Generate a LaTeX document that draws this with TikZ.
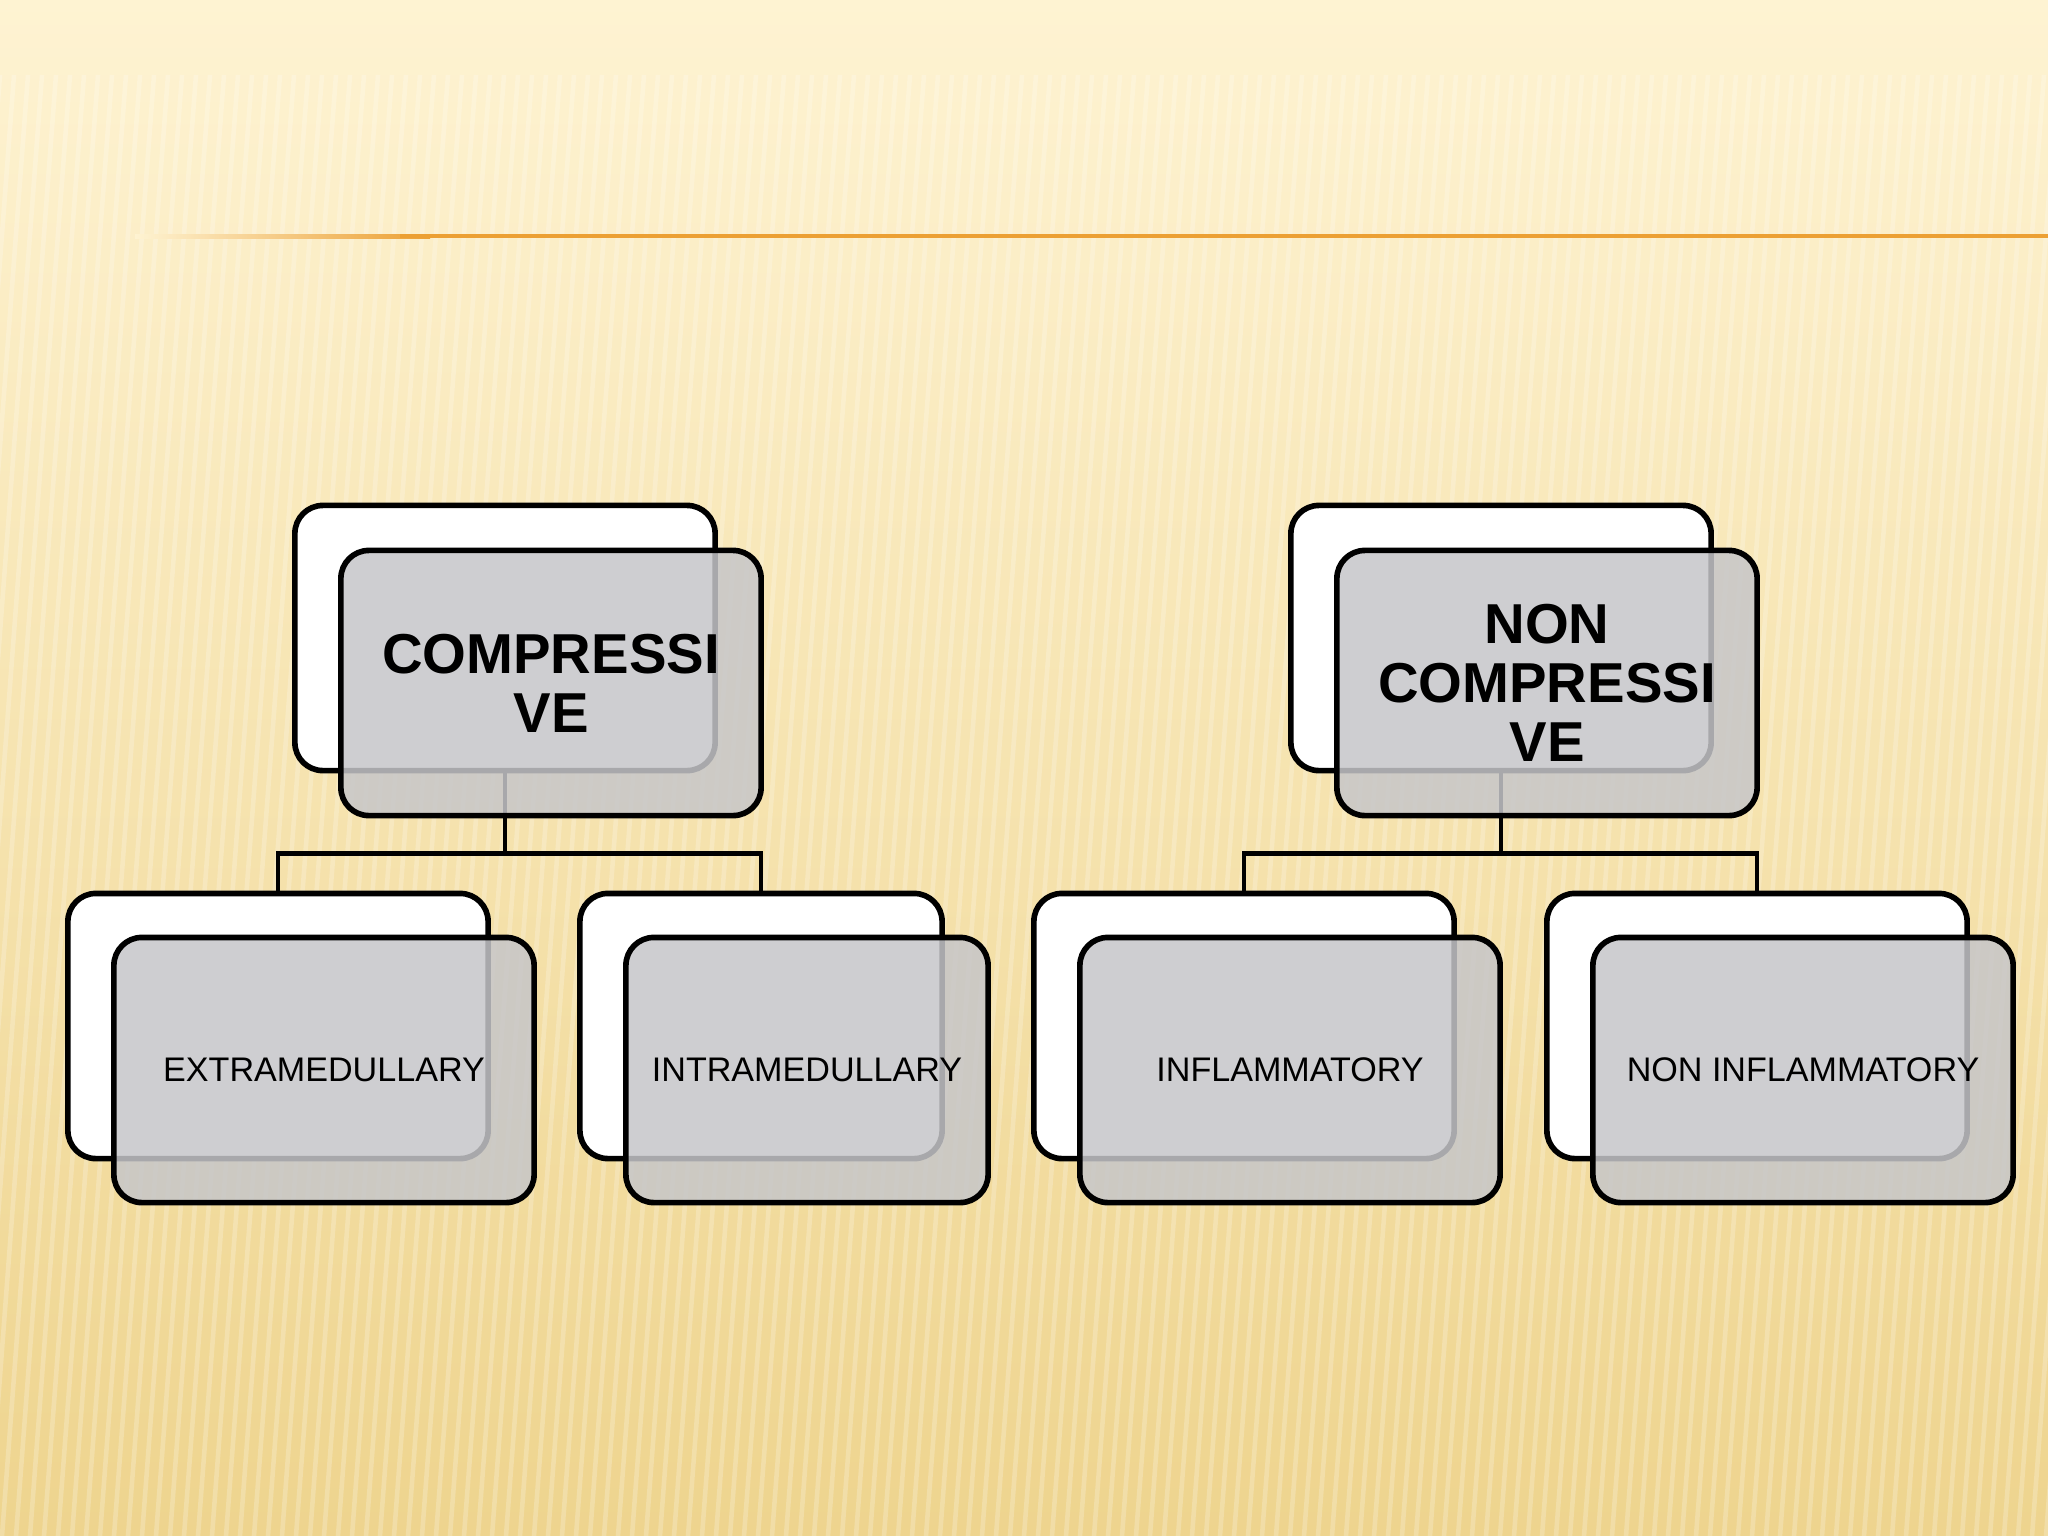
\documentclass[tikz,border=0pt]{standalone}
\usepackage{fontspec}
\setmainfont{Liberation Sans}
\usetikzlibrary{positioning}
\definecolor{bgtop}{RGB}{254,243,210}
\definecolor{bgmid}{RGB}{250,232,178}
\definecolor{bgbot}{RGB}{238,212,142}
\definecolor{rulecol}{RGB}{236,160,52}
\definecolor{boxgray}{RGB}{198,198,201}

\tikzset{
  backbox/.style={draw=black, fill=white, line width=1.6pt, rounded corners=0.28cm,
    minimum width=4.2cm, minimum height=2.65cm, inner sep=0pt, outer sep=0pt},
  frontbox/.style={backbox, fill=boxgray, fill opacity=0.85, text opacity=1, align=center},
  link/.style={draw=black, line width=1.4pt},
  toptext/.style={font=\bfseries\fontsize{16}{16.8}\selectfont},
  subtext/.style={font=\fontsize{9.7}{11}\selectfont}
}

\begin{document}
\begin{tikzpicture}[x=0.01cm, y=-0.01cm]
\useasboundingbox (0,0) rectangle (2048,1536);
% background
\shade[top color=bgtop, middle color=bgmid, bottom color=bgbot] (0,0) rectangle (2048,1536);
\begin{scope}
\clip (0,0) rectangle (2048,1536);
\foreach \x in {0,14,...,2200}
  \draw[white, opacity=0.22, line width=1.3pt] (\x,75) -- (\x-110,1536);
\end{scope}
\shade[left color=bgtop, right color=rulecol] (135,234) rectangle (430,238.4);
\draw[rulecol, line width=1.3pt] (400,236.2) -- (2048,236.2);

% back boxes
\node[backbox] (pb1) at (505,638) {};
\node[backbox] (pb2) at (1501,638) {};
\node[backbox] (cb1) at (278,1026) {};
\node[backbox, minimum width=3.62cm] (cb2) at (761,1026) {};
\node[backbox] (cb3) at (1244,1026) {};
\node[backbox] (cb4) at (1757,1026) {};

% links
\draw[link] (pb1.south) -- ++(0,83) -| (cb1.north);
\draw[link] (pb1.south) -- ++(0,83) -| (cb2.north);
\draw[link] (pb2.south) -- ++(0,83) -| (cb3.north);
\draw[link] (pb2.south) -- ++(0,83) -| (cb4.north);

% front boxes
\node[frontbox, toptext] (pf1) at ([shift={(46,45)}]pb1) {COMPRESSI\\VE};
\node[frontbox, toptext] (pf2) at ([shift={(46,45)}]pb2) {NON\\COMPRESSI\\VE};
\node[frontbox, subtext] (cf1) at ([shift={(46,44)}]cb1) {EXTRAMEDULLARY};
\node[frontbox, subtext, minimum width=3.62cm] (cf2) at ([shift={(46,44)}]cb2) {INTRAMEDULLARY};
\node[frontbox, subtext] (cf3) at ([shift={(46,44)}]cb3) {INFLAMMATORY};
\node[frontbox, subtext] (cf4) at ([shift={(46,44)}]cb4) {NON INFLAMMATORY};
\end{tikzpicture}
\end{document}
